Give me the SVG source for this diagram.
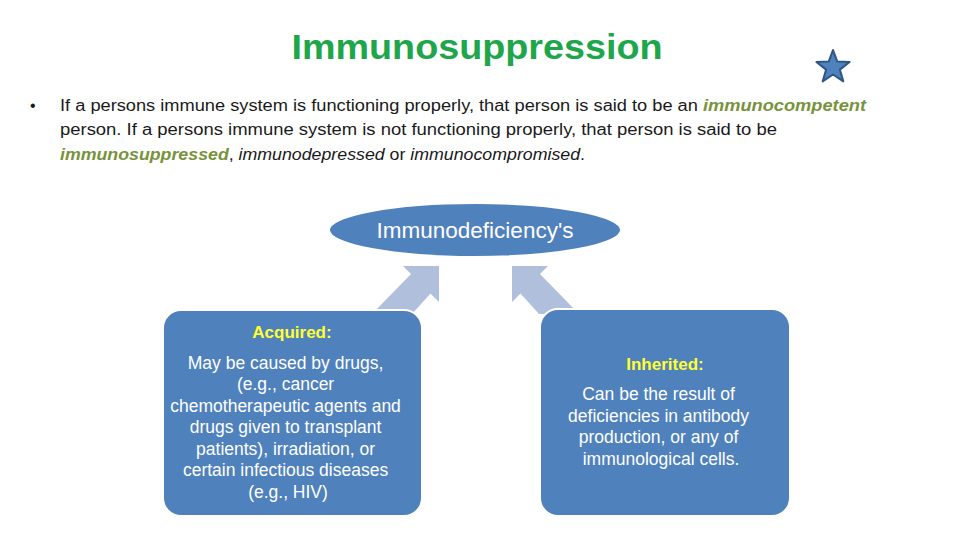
<svg xmlns="http://www.w3.org/2000/svg" width="960" height="540" viewBox="0 0 960 540">
<style>
text{font-family:"Liberation Sans","Open Sans",sans-serif}
.title{font-size:35px;font-weight:bold;fill:#1ea64b}
.body{font-size:16px;fill:#1a1a1a}
.em{font-style:italic;fill:#77933c;font-weight:bold}
.it{font-style:italic}
.node{fill:#4f81bd;stroke:#ffffff;stroke-width:2}
.w{fill:#ffffff;font-size:17.5px}
.hd{fill:#ffff33;font-size:17px;font-weight:bold}
.arrow{fill:#afbfdc}
</style>
<rect width="960" height="540" fill="#ffffff"/>
<text class="title" x="477" y="59" text-anchor="middle" textLength="371" lengthAdjust="spacingAndGlyphs">Immunosuppression</text>
<g id="star"><polygon points="833,50 837.3,61.6 849.6,62 839.9,69.6 843.3,81.4 833,74.5 822.7,81.4 826.1,69.6 816.4,62 828.7,61.6" fill="#4f81bd" stroke="#2e5687" stroke-width="2" stroke-linejoin="round"/></g>
<text class="body" x="30" y="111">•</text>
<text class="body" x="60" y="111" textLength="806" lengthAdjust="spacingAndGlyphs">If a persons immune system is functioning properly, that person is said to be an <tspan class="em">immunocompetent</tspan></text>
<text class="body" x="60" y="135" textLength="717" lengthAdjust="spacingAndGlyphs">person. If a persons immune system is not functioning properly, that person is said to be</text>
<text class="body" x="60" y="160" textLength="525" lengthAdjust="spacingAndGlyphs"><tspan class="em">immunosuppressed</tspan>, <tspan class="it">immunodepressed</tspan> or <tspan class="it">immunocompromised</tspan>.</text>
<g id="connectors">
<polygon class="arrow" points="439,266 439,302 430.5,293.5 412,314 372,314 411,274 403,266"/>
<polygon class="arrow" points="512,266 512,302 520.5,293.5 539,314 579,314 540,274 548,266"/>
</g>
<g id="immunodeficiency">
<ellipse class="node" cx="475" cy="230" rx="146" ry="27"/>
<text x="475" y="238" text-anchor="middle" fill="#ffffff" font-size="22.5">Immunodeficiency's</text>
</g>
<g id="acquired">
<rect class="node" x="163" y="310" width="259" height="206" rx="18"/>
<text class="hd" x="292" y="338" text-anchor="middle">Acquired:</text>
<text class="w" text-anchor="middle">
<tspan x="288" y="369">May be caused by drugs,</tspan>
<tspan x="288" y="390">(e.g., cancer</tspan>
<tspan x="288" y="411.5">chemotherapeutic agents and</tspan>
<tspan x="288" y="433">drugs given to transplant</tspan>
<tspan x="288" y="455">patients), irradiation, or</tspan>
<tspan x="288" y="476">certain infectious diseases</tspan>
<tspan x="288" y="498">(e.g., HIV)</tspan>
</text>
</g>
<g id="inherited">
<rect class="node" x="540" y="309" width="250" height="207" rx="18"/>
<text class="hd" x="665" y="370" text-anchor="middle">Inherited:</text>
<text class="w" text-anchor="middle">
<tspan x="661" y="400">Can be the result of</tspan>
<tspan x="661" y="422">deficiencies in antibody</tspan>
<tspan x="661" y="443">production, or any of</tspan>
<tspan x="661" y="465">immunological cells.</tspan>
</text>
</g>
</svg>
